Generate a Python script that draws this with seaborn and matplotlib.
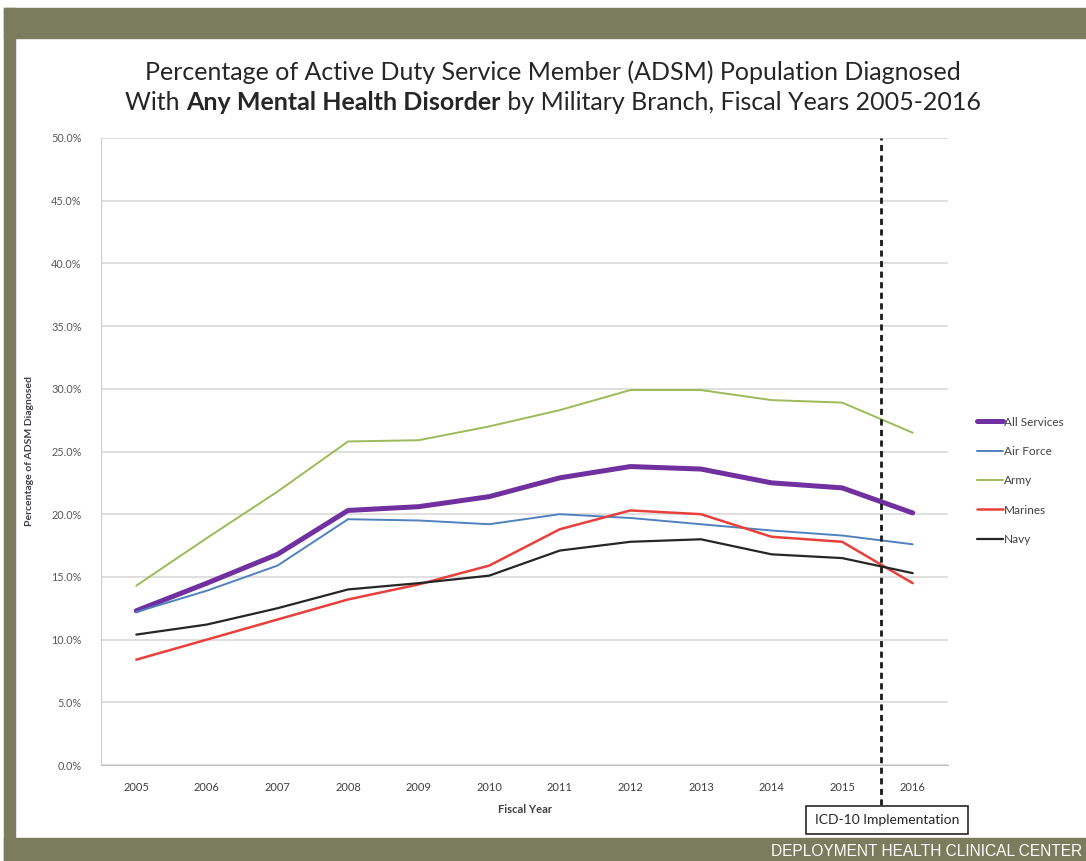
import matplotlib
matplotlib.use("Agg")
import matplotlib.pyplot as plt
from matplotlib.patches import Rectangle
from matplotlib.lines import Line2D
from matplotlib.ticker import FuncFormatter, MultipleLocator
import seaborn as sns
import pandas as pd

# Data
years = [2005, 2006, 2007, 2008, 2009, 2010, 2011, 2012, 2013, 2014, 2015, 2016]
all_services = [12.3, 14.5, 16.8, 20.3, 20.6, 21.4, 22.9, 23.8, 23.6, 22.5, 22.1, 20.1]
air_force = [12.2, 13.9, 15.9, 19.6, 19.5, 19.2, 20.0, 19.7, 19.2, 18.7, 18.3, 17.6]
army = [14.3, 18.1, 21.8, 25.8, 25.9, 27.0, 28.3, 29.9, 29.9, 29.1, 28.9, 26.5]
marines = [8.4, 10.0, 11.6, 13.2, 14.4, 15.9, 18.8, 20.3, 20.0, 18.2, 17.8, 14.5]
navy = [10.4, 11.2, 12.5, 14.0, 14.5, 15.1, 17.1, 17.8, 18.0, 16.8, 16.5, 15.3]
branches = ["All Services", "Air Force", "Army", "Marines", "Navy"]
icd10_year = 2015.55

df = pd.DataFrame({
    "Fiscal Year": years * 5,
    "Percent": all_services + air_force + army + marines + navy,
    "Branch": [b for b in branches for _ in years],
})

colors = {"All Services": "#7030A0", "Air Force": "#4F81BD", "Army": "#9BBB59",
          "Marines": "#E8403C", "Navy": "#262626"}
widths = {"All Services": 3.6, "Air Force": 1.4, "Army": 1.4, "Marines": 1.8, "Navy": 1.6}

sns.set_style("white")
plt.rcParams["font.family"] = ["Lato", "DejaVu Sans"]

fig = plt.figure(figsize=(10.86, 8.61), dpi=100)
olive = "#7a7c5d"
fig.patches.append(Rectangle((4 / 1086, 1 - 38 / 861), 1, 30 / 861, transform=fig.transFigure,
                             color=olive, zorder=0))
fig.patches.append(Rectangle((4 / 1086, 0), 11 / 1086, 1 - 8 / 861, transform=fig.transFigure,
                             color=olive, zorder=0))
fig.patches.append(Rectangle((4 / 1086, 0), 1, 23 / 861, transform=fig.transFigure,
                             color=olive, zorder=0))

ax = fig.add_axes([101 / 1086, 1 - 765 / 861, 847 / 1086, 627 / 861])

for b in branches:
    sns.lineplot(data=df[df["Branch"] == b], x="Fiscal Year", y="Percent", ax=ax,
                 color=colors[b], linewidth=widths[b], legend=False)

ax.set_xlim(2004.5, 2016.5)
ax.set_ylim(0, 50)
ax.yaxis.set_major_locator(MultipleLocator(5))
ax.yaxis.set_major_formatter(FuncFormatter(lambda v, p: f"{v:.1f}%"))
ax.set_xticks(years)
ax.set_xticks([y + 0.5 for y in years[:-1]] + [2004.5], minor=True)
ax.grid(axis="y", color="#d9d9d9", linewidth=1.2)
ax.set_axisbelow(True)
for s in ["top", "right"]:
    ax.spines[s].set_visible(False)
ax.spines["left"].set_color("#d0d0d0")
ax.spines["bottom"].set_color("#bfbfbf")
ax.tick_params(axis="x", which="major", length=0, pad=12, labelsize=8, labelcolor="#404040")
ax.tick_params(axis="x", which="minor", length=4, direction="inout", color="#bfbfbf")
ax.tick_params(axis="y", length=0, pad=14, labelsize=7.8, labelcolor="#595959")

ax.set_xlabel("Fiscal Year", fontsize=8, fontweight="bold", color="#404040", labelpad=8)
ax.set_ylabel("Percentage of ADSM Diagnosed", fontsize=7.5, fontweight="bold",
              color="#404040", labelpad=12)

# ICD-10 marker
ax.axvline(icd10_year, ymin=-0.064, ymax=1, color="#1a1a1a", linestyle=(0, (2.2, 1.6)),
           linewidth=2, clip_on=False)
fig.text(887 / 1086, 1 - 820 / 861, "ICD-10 Implementation", ha="center", va="center",
         fontsize=10, color="#262626",
         bbox=dict(boxstyle="square,pad=0.6", fc="white", ec="#262626", lw=1.2))

# legend
handles = [Line2D([], [], color=colors[b], linewidth=widths[b]) for b in branches]
fig.legend(handles, branches, loc="upper left", bbox_to_anchor=(966 / 1086, 1 - 406 / 861),
           frameon=False, fontsize=8.5, handlelength=2.2, handletextpad=0.1,
           labelspacing=1.55, labelcolor="#404040")

# title with bold part on second line
fig.text(553 / 1086, 1 - 72 / 861, "Percentage of Active Duty Service Member (ADSM) Population Diagnosed",
         ha="center", va="center", fontsize=18, color="#262626")
parts = [("With ", "normal"), ("Any Mental Health Disorder", "bold"),
         (" by Military Branch, Fiscal Years 2005-2016", "normal")]
texts = [fig.text(0, 1 - 103 / 861, t, ha="left", va="center", fontsize=18,
                  fontweight=w, color="#262626") for t, w in parts]
fig.canvas.draw()
r = fig.canvas.get_renderer()
ws = [t.get_window_extent(r).width for t in texts]
x = 553 - sum(ws) / 2
for t, w in zip(texts, ws):
    t.set_x(x / 1086)
    x += w

fig.text(1082 / 1086, 1 - 851 / 861, "DEPLOYMENT HEALTH CLINICAL CENTER", ha="right", va="center",
         fontsize=11.2, color="white", family=["Liberation Sans", "DejaVu Sans"])

fig.savefig("out.png", dpi=100)
